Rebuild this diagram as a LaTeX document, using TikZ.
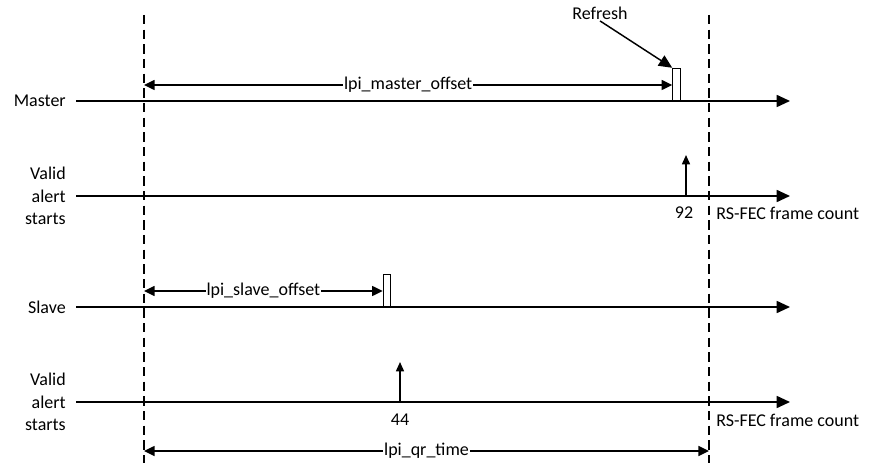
\documentclass[tikz,border=0pt]{standalone}
\usepackage{fontspec}
\setmainfont{Carlito}
\usetikzlibrary{arrows.meta,positioning}

\begin{document}
\begin{tikzpicture}[x=0.75pt, y=-0.75pt, font=\fontsize{13.5}{17}\selectfont,
    axis/.style={line width=1.3pt, -{Triangle[length=10pt,width=9pt]}},
    tick/.style={line width=1.1pt, -{Triangle[length=7pt,width=6pt]}},
    dim/.style={line width=1.1pt, {Triangle[length=8pt,width=7.5pt]}-{Triangle[length=8pt,width=7.5pt]}},
    guide/.style={line width=1.1pt, dash pattern=on 7pt off 4pt},
    pulse/.style={draw, line width=0.9pt, fill=white, minimum width=5.5pt, minimum height=24pt, inner sep=0pt, anchor=south},
    lbl/.style={fill=white, inner sep=0.5pt},
    rowname/.style={anchor=east, align=right, inner sep=0pt}]
    \useasboundingbox (0,0) rectangle (877,463);

    % Guides
    \coordinate (ga) at (144,15);  \coordinate (gb) at (144,463);
    \coordinate (gc) at (709,15);  \coordinate (gd) at (709,463);
    \draw [guide] (ga) -- (gb);
    \draw [guide] (gc) -- (gd);

    % Axes {master, valid1, slave, valid2}
    \coordinate (m0) at (76,101);  \coordinate (m1) at (790,101);
    \coordinate (a0) at (76,196);  \coordinate (a1) at (790,196);
    \coordinate (s0) at (76,307);  \coordinate (s1) at (790,307);
    \coordinate (b0) at (76,402);  \coordinate (b1) at (790,402);
    \draw [axis] (m0) -- (m1);
    \draw [axis] (a0) -- (a1);
    \draw [axis] (s0) -- (s1);
    \draw [axis] (b0) -- (b1);

    \node [rowname] (master) at (66,101) {Master};
    \node [rowname] (valid1) at (66,196) {Valid\\alert\\starts};
    \node [rowname] (slave)  at (66,307) {Slave};
    \node [rowname] (valid2) at (66,402) {Valid\\alert\\starts};

    % Pulses
    \node [pulse] (mpulse) at (676.5,101) {};
    \node [pulse] (spulse) at (387,307) {};

    % Offsets
    \coordinate (mo) at (144,85);
    \coordinate (so) at (144,291);
    \coordinate (qo) at (144,451);  \coordinate (qe) at (709,451);
    \draw [dim] (mo) -- (mpulse.west |- mo) node [lbl, pos=0.5] {lpi\_master\_offset};
    \draw [dim] (so) -- (spulse.west |- so) node [lbl, pos=0.5] {lpi\_slave\_offset};
    \draw [dim] (qo) -- (qe) node [lbl, pos=0.5] {lpi\_qr\_time};

    % Refresh
    \node [inner sep=1pt] (refresh) at (600,13) {Refresh};
    \draw [line width=1.1pt, -{Triangle[length=10pt,width=9pt]}] (refresh.south) -- (mpulse.north west);

    % Alert ticks
    \coordinate (t1) at (686,196);  \coordinate (t1e) at (686,155);
    \coordinate (t2) at (400,402);  \coordinate (t2e) at (400,362);
    \draw [tick] (t1) -- (t1e);
    \draw [tick] (t2) -- (t2e);
    \node (n92) at (684,213) {92};
    \node (n44) at (400,420) {44};
    \node [anchor=west, inner sep=0pt] (fc1) at (716,213) {RS-FEC frame count};
    \node [anchor=west, inner sep=0pt] (fc2) at (716,420) {RS-FEC frame count};
\end{tikzpicture}
\end{document}
